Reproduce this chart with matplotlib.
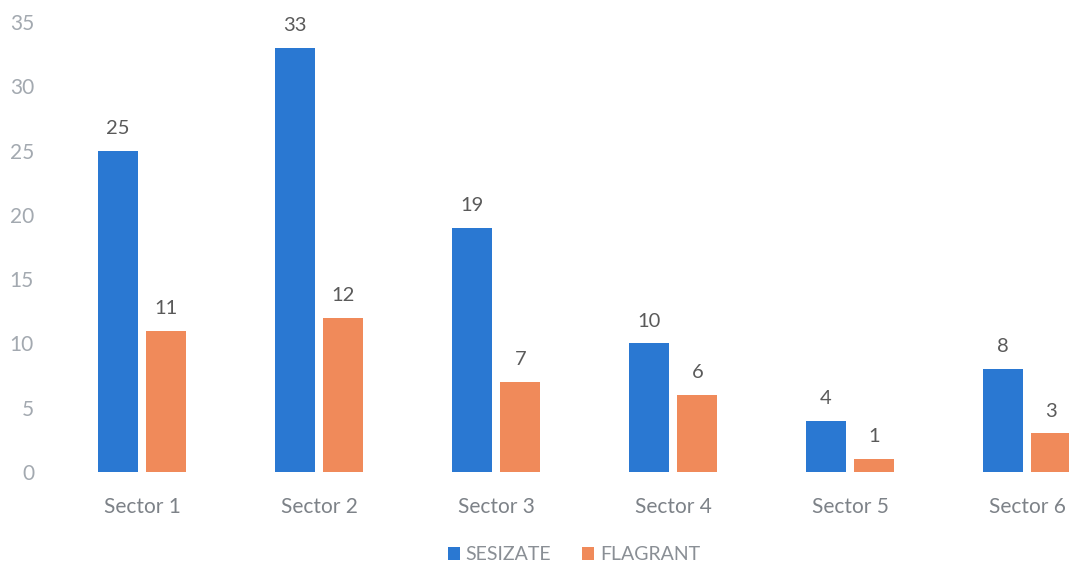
import matplotlib.pyplot as plt
import numpy as np

sectors = ["Sector 1", "Sector 2", "Sector 3", "Sector 4", "Sector 5", "Sector 6"]
sesizate = [25, 33, 19, 10, 4, 8]
flagrant = [11, 12, 7, 6, 1, 3]

blue = "#2A78D2"
orange = "#F08A5A"

plt.rcParams["font.family"] = ["Lato", "DejaVu Sans"]

fig = plt.figure(figsize=(10.69, 5.66), dpi=100)
ax = fig.add_axes([0.05, 0.166, 0.95, 0.795])

x = np.arange(len(sectors))
w = 0.225
off = 0.137
b1 = ax.bar(x - off, sesizate, w, color=blue, label="SESIZATE")
b2 = ax.bar(x + off, flagrant, w, color=orange, label="FLAGRANT")

for bars in (b1, b2):
    for rect in bars:
        h = rect.get_height()
        ax.annotate(str(int(h)), (rect.get_x() + rect.get_width() / 2, h),
                    xytext=(0, 10), textcoords="offset points",
                    ha="center", va="bottom", fontsize=14.5, color="#5a5a5a")

ax.set_xlim(-0.5, 5.237)
ax.set_ylim(0, 35)
ax.set_yticks(range(0, 36, 5))
ax.set_xticks(x)
ax.set_xticklabels(sectors)
ax.tick_params(axis="y", length=0, pad=14, labelsize=15, labelcolor="#a3a9b0")
ax.tick_params(axis="x", length=0, pad=18, labelsize=15, labelcolor="#7d8288")
for s in ax.spines.values():
    s.set_visible(False)

fig.legend(loc="center", bbox_to_anchor=(574 / 1069, 1 - 555 / 566), ncol=2,
           frameon=False, fontsize=14, handlelength=0.6, handleheight=0.6,
           handletextpad=0.3, columnspacing=1.6, labelcolor="#8a8f95")

fig.savefig("out.png", dpi=100)
